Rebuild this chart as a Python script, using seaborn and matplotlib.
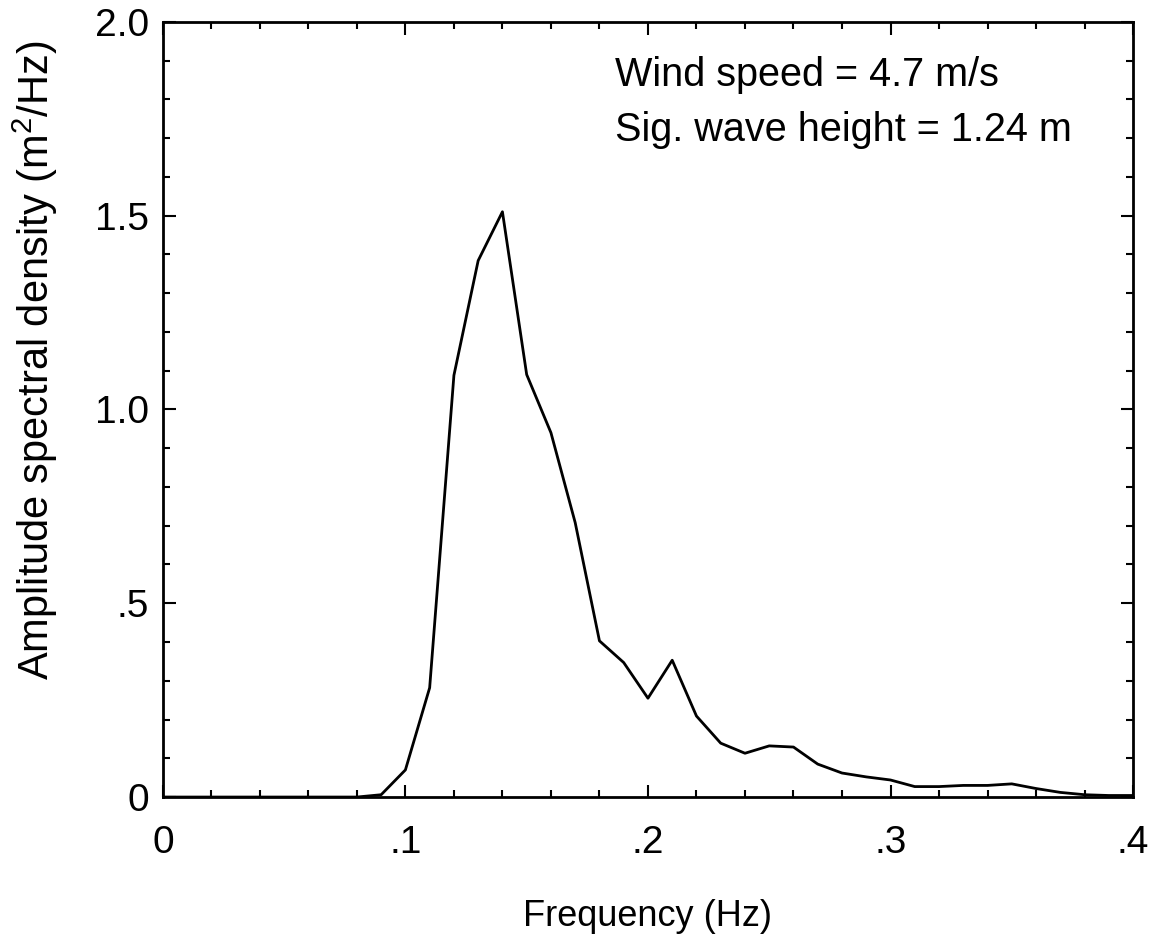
import pandas as pd
import seaborn as sns
import matplotlib.pyplot as plt
from matplotlib.ticker import MultipleLocator, FixedLocator, FixedFormatter

# spectrum, one value every 0.01 Hz
frecuencia = [0.00, 0.01, 0.02, 0.03, 0.04, 0.05, 0.06, 0.07, 0.08, 0.09,
              0.10, 0.11, 0.12, 0.13, 0.14, 0.15, 0.16, 0.17, 0.18, 0.19,
              0.20, 0.21, 0.22, 0.23, 0.24, 0.25, 0.26, 0.27, 0.28, 0.29,
              0.30, 0.31, 0.32, 0.33, 0.34, 0.35, 0.36, 0.37, 0.38, 0.39, 0.40]
densidad = [0.0, 0.0, 0.0, 0.0, 0.0, 0.0, 0.0, 0.0, 0.0, 0.006,
            0.07, 0.282, 1.088, 1.384, 1.51, 1.09, 0.94, 0.708, 0.403, 0.347,
            0.255, 0.353, 0.209, 0.139, 0.113, 0.132, 0.129, 0.085, 0.062, 0.052,
            0.044, 0.027, 0.027, 0.030, 0.030, 0.034, 0.022, 0.012, 0.006, 0.004, 0.004]

x_ticks = [0, 0.1, 0.2, 0.3, 0.4]
x_labels = ['0', '.1', '.2', '.3', '.4']
y_ticks = [0, 0.5, 1.0, 1.5, 2.0]
y_labels = ['0', '.5', '1.0', '1.5', '2.0']

df = pd.DataFrame({'Frecuencia': frecuencia, 'Densidad': densidad})

sns.set_style('ticks')
plt.rcParams['font.family'] = ['Liberation Sans', 'DejaVu Sans']
plt.rcParams['mathtext.fontset'] = 'custom'
plt.rcParams['mathtext.rm'] = 'Liberation Sans'
plt.rcParams['text.color'] = 'black'
plt.rcParams['axes.labelcolor'] = 'black'

fig = plt.figure(figsize=(11.55, 9.5), dpi=100)
ax = fig.add_axes([0.141, 0.161, 0.840, 0.816])

sns.lineplot(data=df, x='Frecuencia', y='Densidad', color='black', linewidth=2.0, ax=ax)

ax.set_xlim(0, 0.4)
ax.set_ylim(0, 2.0)
ax.xaxis.set_major_locator(FixedLocator(x_ticks))
ax.xaxis.set_major_formatter(FixedFormatter(x_labels))
ax.yaxis.set_major_locator(FixedLocator(y_ticks))
ax.yaxis.set_major_formatter(FixedFormatter(y_labels))
ax.xaxis.set_minor_locator(MultipleLocator(0.02))
ax.yaxis.set_minor_locator(MultipleLocator(0.1))

ax.tick_params(which='both', direction='in', top=True, right=True, width=1.5, colors='black')
ax.tick_params(which='major', length=9)
ax.tick_params(which='minor', length=5)
ax.tick_params(axis='x', which='major', labelsize=28, pad=20)
ax.tick_params(axis='y', which='major', labelsize=28, pad=10)
for spine in ax.spines.values():
    spine.set_linewidth(2.0)
    spine.set_color('black')

ax.set_xlabel('Frequency (Hz)', fontsize=26)
ax.xaxis.set_label_coords(0.5, -0.131)
ax.set_ylabel('Amplitude spectral density (m$^2$/Hz)', fontsize=30)
ax.yaxis.set_label_coords(-0.106, 0.564)

ax.text(0.1864, 1.863, 'Wind speed = 4.7 m/s', fontsize=28.5, ha='left', va='center', color='black')
ax.text(0.1864, 1.72, 'Sig. wave height = 1.24 m', fontsize=28.5, ha='left', va='center', color='black')

plt.savefig('out.png', dpi=100)
